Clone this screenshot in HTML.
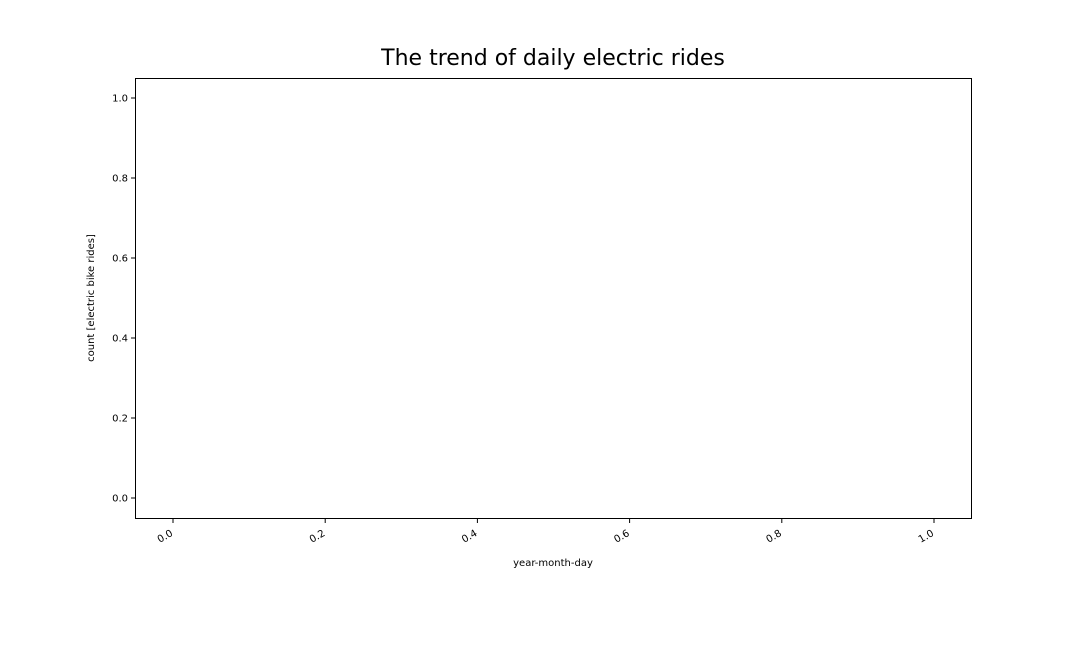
<!DOCTYPE html>
<html><head><meta charset="utf-8"><style>
body{margin:0;background:#fff;}
svg{display:block;font-family:"DejaVu Sans","Liberation Sans",sans-serif;}
</style></head><body>
<svg id="chart" width="1080" height="648" viewBox="0 0 1080 648">
<rect width="1080" height="648" fill="#fff"/>
<text x="553" y="65" text-anchor="middle" font-size="22" fill="#000">The trend of daily electric rides</text>
<rect x="135.5" y="78.5" width="836" height="440" fill="none" stroke="#000" stroke-width="1"/>
<g id="yticks"></g>
<g id="xticks"></g>
<text x="553" y="566" text-anchor="middle" font-size="10">year-month-day</text>
<text transform="translate(94,298) rotate(-90)" text-anchor="middle" font-size="10">count [electric bike rides]</text>
</svg>
<script>
const yTickValues=[0,0.2,0.4,0.6,0.8,1.0];
const xTickValues=[0,0.2,0.4,0.6,0.8,1.0];
const yTickLabels=["0.0","0.2","0.4","0.6","0.8","1.0"];
const xTickLabels=["0.0","0.2","0.4","0.6","0.8","1.0"];
const NS="http://www.w3.org/2000/svg";
function yScale(v){return 498-v*400;}
function xScale(v){return 173+v*761;}
const yg=document.getElementById('yticks'),xg=document.getElementById('xticks');
yTickValues.forEach((v,i)=>{
 const y=yScale(v);
 const l=document.createElementNS(NS,'line');
 l.setAttribute('x1',131);l.setAttribute('x2',135.5);l.setAttribute('y1',y);l.setAttribute('y2',y);l.setAttribute('stroke','#000');
 
 
 yg.appendChild(l);
 const t=document.createElementNS(NS,'text');
 t.setAttribute('x',128);t.setAttribute('y',y+3.5);t.setAttribute('text-anchor','end');t.setAttribute('font-size','10');
 t.textContent=yTickLabels[i];
 
 
 yg.appendChild(t);
});
xTickValues.forEach((v,i)=>{
 const x=xScale(v);
 const l=document.createElementNS(NS,'line');
 l.setAttribute('x1',x);l.setAttribute('x2',x);l.setAttribute('y1',518.5);l.setAttribute('y2',523);l.setAttribute('stroke','#000');
 
 
 xg.appendChild(l);
 const t=document.createElementNS(NS,'text');
 t.setAttribute('transform','translate('+(x-3)+',529) rotate(-30)');
 t.setAttribute('text-anchor','end');t.setAttribute('font-size','10');t.setAttribute('dy','7');
 t.textContent=xTickLabels[i];
 
 
 xg.appendChild(t);
});
</script>
</body></html>
